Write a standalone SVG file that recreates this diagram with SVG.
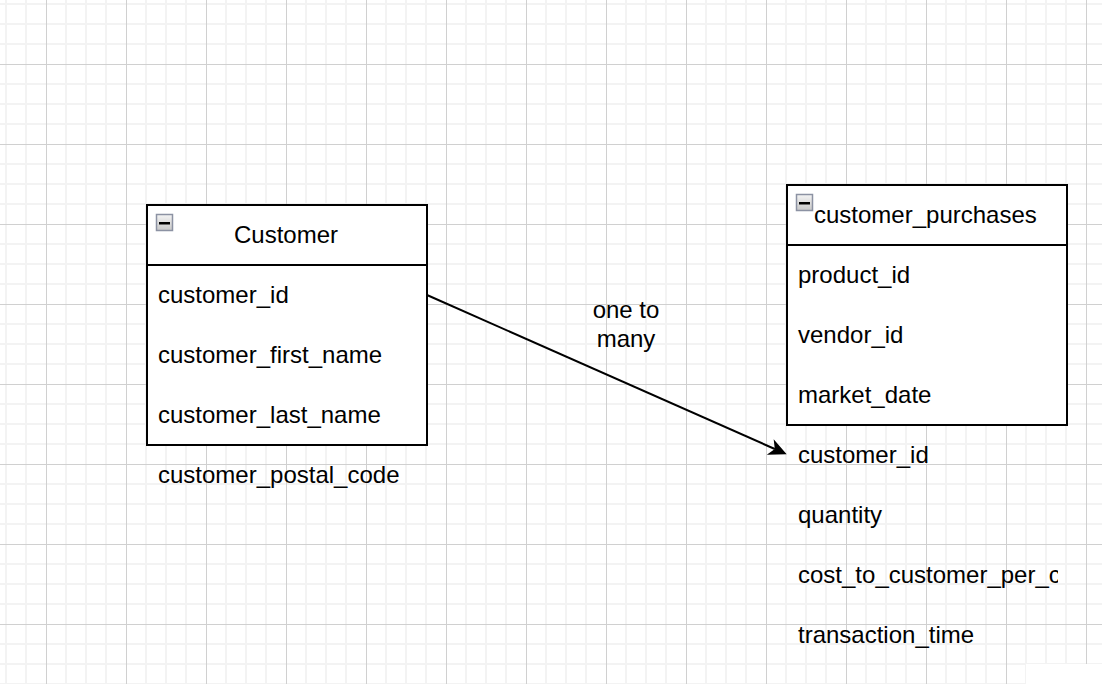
<svg xmlns="http://www.w3.org/2000/svg" width="1102" height="684" viewBox="0 0 1102 684">
  <style>
    .t { font-family: "Liberation Sans", Arial, Helvetica, sans-serif; font-size: 24px; fill: #000000; }
    .box { fill: #ffffff; stroke: #000000; stroke-width: 2; }
    .sep { stroke: #000000; stroke-width: 2; fill: none; }
    .edge { stroke: #000000; stroke-width: 2; fill: none; }
    .iconbox { stroke: #8c92a3; stroke-width: 1.5; fill: url(#icongrad); }
  </style>
  <defs>
    <pattern id="grid" patternUnits="userSpaceOnUse" x="-4" y="-6" width="80" height="80">
      <rect x="0" y="0" width="80" height="80" fill="#ffffff"/>
      <path d="M10,0V80M30,0V80M70,0V80M0,10H80M0,30H80M0,50H80" stroke="#f3f3f3" stroke-width="2" fill="none"/>
      <path d="M50.5,0V80M0,70.5H80" stroke="#d0d0d0" stroke-width="1" fill="none"/>
    </pattern>
    <linearGradient id="icongrad" x1="0" y1="0" x2="0" y2="1">
      <stop offset="0" stop-color="#f4f4f4"/>
      <stop offset="1" stop-color="#c8c8c8"/>
    </linearGradient>
    <marker id="arrow" viewBox="-6 -10 20 20" refX="0" refY="0" markerWidth="20" markerHeight="20" markerUnits="userSpaceOnUse" orient="auto">
      <path d="M13,0 L-5,-8.5 L0,0 L-5,8.5 Z" fill="#000000"/>
    </marker>
    <clipPath id="rowclip">
      <rect x="787" y="545" width="271" height="60"/>
    </clipPath>
  </defs>

  <rect x="0" y="0" width="1102" height="684" fill="url(#grid)"/>
  <rect x="1026" y="664" width="76" height="20" fill="#ffffff"/>

  <g id="connectors">
    <path class="edge" d="M427,295 L774.8,449" marker-end="url(#arrow)"/>
    <text class="t" x="626" y="318" text-anchor="middle">one to</text>
    <text class="t" x="626" y="347" text-anchor="middle">many</text>
  </g>

  <g id="customer">
    <rect class="box" x="147" y="205" width="280" height="240"/>
    <line class="sep" x1="147" y1="265" x2="427" y2="265"/>
    <rect class="iconbox" x="156.5" y="214.5" width="16" height="16"/>
    <rect x="159" y="222" width="11" height="2.5" fill="#000000"/>
    <text class="t" x="286" y="243" text-anchor="middle">Customer</text>
    <text class="t" x="158" y="303">customer_id</text>
    <text class="t" x="158" y="363">customer_first_name</text>
    <text class="t" x="158" y="423">customer_last_name</text>
    <text class="t" x="158" y="483">customer_postal_code</text>
  </g>

  <g id="customer_purchases">
    <rect class="box" x="787" y="185" width="280" height="240"/>
    <line class="sep" x1="787" y1="245" x2="1067" y2="245"/>
    <rect class="iconbox" x="796.5" y="194.5" width="16" height="16"/>
    <rect x="799" y="202" width="11" height="2.5" fill="#000000"/>
    <text class="t" x="814" y="223">customer_purchases</text>
    <text class="t" x="798" y="283">product_id</text>
    <text class="t" x="798" y="343">vendor_id</text>
    <text class="t" x="798" y="403">market_date</text>
    <text class="t" x="798" y="463">customer_id</text>
    <text class="t" x="798" y="523">quantity</text>
    <text class="t" x="798" y="583" clip-path="url(#rowclip)">cost_to_customer_per_c</text>
    <text class="t" x="798" y="643">transaction_time</text>
  </g>
</svg>
